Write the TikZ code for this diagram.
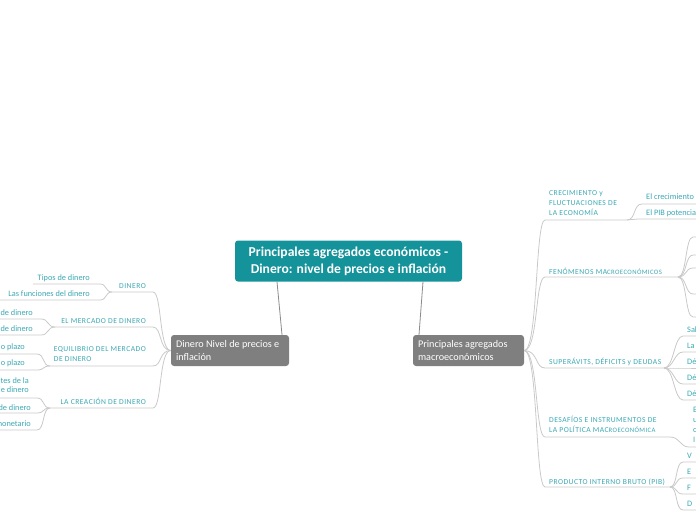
\documentclass[tikz,border=0pt]{standalone}
\usepackage{fontspec}
\setmainfont{Carlito}
\newfontfamily\capsf[LetterSpace=6]{Carlito}
\definecolor{rootteal}{HTML}{15939B}
\definecolor{maingray}{HTML}{7F7F80}
\definecolor{lbl}{HTML}{3BA8B4}
\definecolor{lnc}{HTML}{C9C9C9}
\definecolor{trunk}{HTML}{8A8A8A}
\begin{document}
\begin{tikzpicture}[x=1pt,y=-1pt,
  conn/.style={draw=lnc, line width=0.8pt},
  trunkline/.style={draw=trunk, line width=0.8pt},
  rootbox/.style={fill=rootteal, rounded corners=3pt, text=white,
    font=\bfseries\fontsize{13.6}{17}\selectfont, align=center,
    minimum width=227pt, minimum height=41pt, inner sep=0pt},
  mainbox/.style={fill=maingray, rounded corners=3pt,
    minimum width=#1, minimum height=31pt, inner sep=0pt},
  maintext/.style={text=white, font=\fontsize{10.2}{12.5}\selectfont,
    align=left, inner sep=0pt, anchor=west},
  subR/.style={text=lbl, font=\capsf\fontsize{7.6}{10}\selectfont, align=left, inner sep=0pt},
  subL/.style={text=lbl, font=\capsf\fontsize{7.6}{10.5}\selectfont, align=left, inner sep=0pt},
  leaf/.style={text=lbl, font=\fontsize{8.3}{9.5}\selectfont, inner sep=0pt}
]
\useasboundingbox (0,0) rectangle (696,520);
\clip (0,0) rectangle (696,520);

% main nodes
\node[rootbox] (root) at (348.5,261) {Principales agregados económicos -\\Dinero: nivel de precios e inflación};
\node[mainbox=118pt] (lmain) at (230,350.5) {};
\node[maintext] (lmaint) at ([xshift=5pt]lmain.west) {Dinero Nivel de precios e\\inflación};
\node[mainbox=111pt] (rmain) at (468.5,350.5) {};
\node[maintext] (rmaint) at ([xshift=5pt]rmain.west) {Principales agregados\\macroeconómicos};

\draw[trunkline] ([xshift=-71.5pt]root.south) -- ([xshift=52pt]lmain.north);
\draw[trunkline] ([xshift=74.5pt]root.south) -- ([xshift=-49.5pt]rmain.north);

% ---------- right side ----------
\node[subR, anchor=south west] (s1) at (549,216) {CRECIMIENTO y\\FLUCTUACIONES DE\\LA ECONOMÍA};
\node[subR, anchor=base west] (s2) at (549,274) {FENÓMENOS MA{\fontsize{6.7}{10}\selectfont CROECONÓMICOS}};
\node[subR, anchor=base west] (s3) at (549,364) {SUPERÁVITS, DÉFICITS y DEUDAS};
\node[subR, anchor=south west] (s4) at (549,433) {DESAFÍOS E INSTRUMENTOS DE\\LA POLÍTICA MAC{\fontsize{6.7}{10}\selectfont ROECONÓMICA}};
\node[subR, anchor=base west] (s5) at (549,484) {PRODUCTO INTERNO BRUTO (PIB)};

\coordinate (rf) at (rmain.east);
\foreach \y/\xe [count=\i] in {220/627, 277/678, 368/664, 437/670, 487/670} {
  \coordinate (su\i) at (545,\y);
  \coordinate (se\i) at (\xe,\y);
  \draw[conn] (rf) .. controls +(14,0) and +(-10,0) .. (su\i) -- (se\i);
}

% leaves of s1
\node[leaf, anchor=base west] (r1a) at (646,199) {El crecimiento e};
\node[leaf, anchor=base west] (r1b) at (646,215) {El PIB potencial};
\coordinate (r1au) at (642,204);
\coordinate (r1bu) at (638,219);
\draw[conn] (se1) .. controls +(9,0) and +(-9,0) .. (r1au) -- (700,204);
\draw[conn] (se1) .. controls +(5,0) and +(-5,0) .. (r1bu) -- (700,219);

% leaves of s2 (text outside the picture)
\foreach \y [count=\j] in {237,255,268,294,317} {
  \coordinate (r2\j) at (693,\y);
  \draw[conn] (se2) .. controls +(9,0) and +(-8,0) .. (r2\j) -- (700,\y);
}

% leaves of s3
\foreach \t/\y [count=\j] in {Sal/336, La/352, Dé/368, Dé/384, Dé/400} {
  \node[leaf, anchor=base west] (r3t\j) at (687,\y-4) {\t};
  \coordinate (r3\j) at (683,\y);
  \draw[conn] (se3) .. controls +(10,0) and +(-9,0) .. (r3\j) -- (700,\y);
}

% leaf of s4
\node[leaf, anchor=south west, align=left, font=\fontsize{8.3}{10}\selectfont] (r4t) at (693,443) {E\\u\\c\\I};
\coordinate (r41) at (689,447);
\draw[conn] (se4) .. controls +(10,0) and +(-9,0) .. (r41) -- (700,447);

% leaves of s5
\foreach \t/\y [count=\j] in {V/462, E/478, F/494, D/510} {
  \node[leaf, anchor=base west] (r5t\j) at (687,\y-4) {\t};
  \coordinate (r5\j) at (683,\y);
  \draw[conn] (se5) .. controls +(8,0) and +(-8,0) .. (r5\j) -- (700,\y);
}

% ---------- left side ----------
\node[subL, anchor=base east] (d1) at (146,288) {DINERO};
\node[subL, anchor=base east] (d2) at (146,323) {EL MERCADO DE DINERO};
\node[subL, anchor=south east] (d3) at (146,362) {EQUILIBRIO DEL MERCADO\\DE DINERO};
\node[subL, anchor=base east] (d4) at (146,404) {LA CREACIÓN DE DINERO};

\coordinate (lf) at (lmain.west);
\foreach \y/\xe [count=\i] in {292/112, 327/55, 366/50, 408/50} {
  \coordinate (du\i) at (153,\y);
  \coordinate (de\i) at (\xe,\y);
  \draw[conn] (lf) .. controls +(-12,0) and +(9,0) .. (du\i) -- (de\i);
}

\node[leaf, anchor=base east] (l1a) at (90,280) {Tipos de dinero};
\node[leaf, anchor=base east] (l1b) at (90,296) {Las funciones del dinero};
\node[leaf, anchor=base east] (l2a) at (33,315) {de dinero};
\node[leaf, anchor=base east] (l2b) at (33,331) {de dinero};
\node[leaf, anchor=base east] (l3a) at (25,349) {o plazo};
\node[leaf, anchor=base east] (l3b) at (25,365) {o plazo};
\node[leaf, anchor=south east, align=right] (l4a) at (29,393) {tes de la\\e dinero};
\node[leaf, anchor=base east] (l4b) at (31,410) {de dinero};
\node[leaf, anchor=base east] (l4c) at (31,426) {monetario};

\coordinate (l1au) at (100,284);
\coordinate (l1bu) at (100,300);
\draw[conn] (de1) .. controls +(-7,0) and +(7,0) .. (l1au) -- (33,284);
\draw[conn] (de1) .. controls +(-7,0) and +(7,0) .. (l1bu) -- (-5,300);
\foreach \y [count=\j] in {319,335} {
  \coordinate (l2u\j) at (41,\y);
  \draw[conn] (de2) .. controls +(-8,0) and +(8,0) .. (l2u\j) -- (-5,\y);
}
\foreach \y [count=\j] in {354,370} {
  \coordinate (l3u\j) at (37,\y);
  \draw[conn] (de3) .. controls +(-8,0) and +(8,0) .. (l3u\j) -- (-5,\y);
}
\foreach \y [count=\j] in {398,413,430} {
  \coordinate (l4u\j) at (37,\y);
  \draw[conn] (de4) .. controls +(-8,0) and +(8,0) .. (l4u\j) -- (-5,\y);
}
\end{tikzpicture}
\end{document}
